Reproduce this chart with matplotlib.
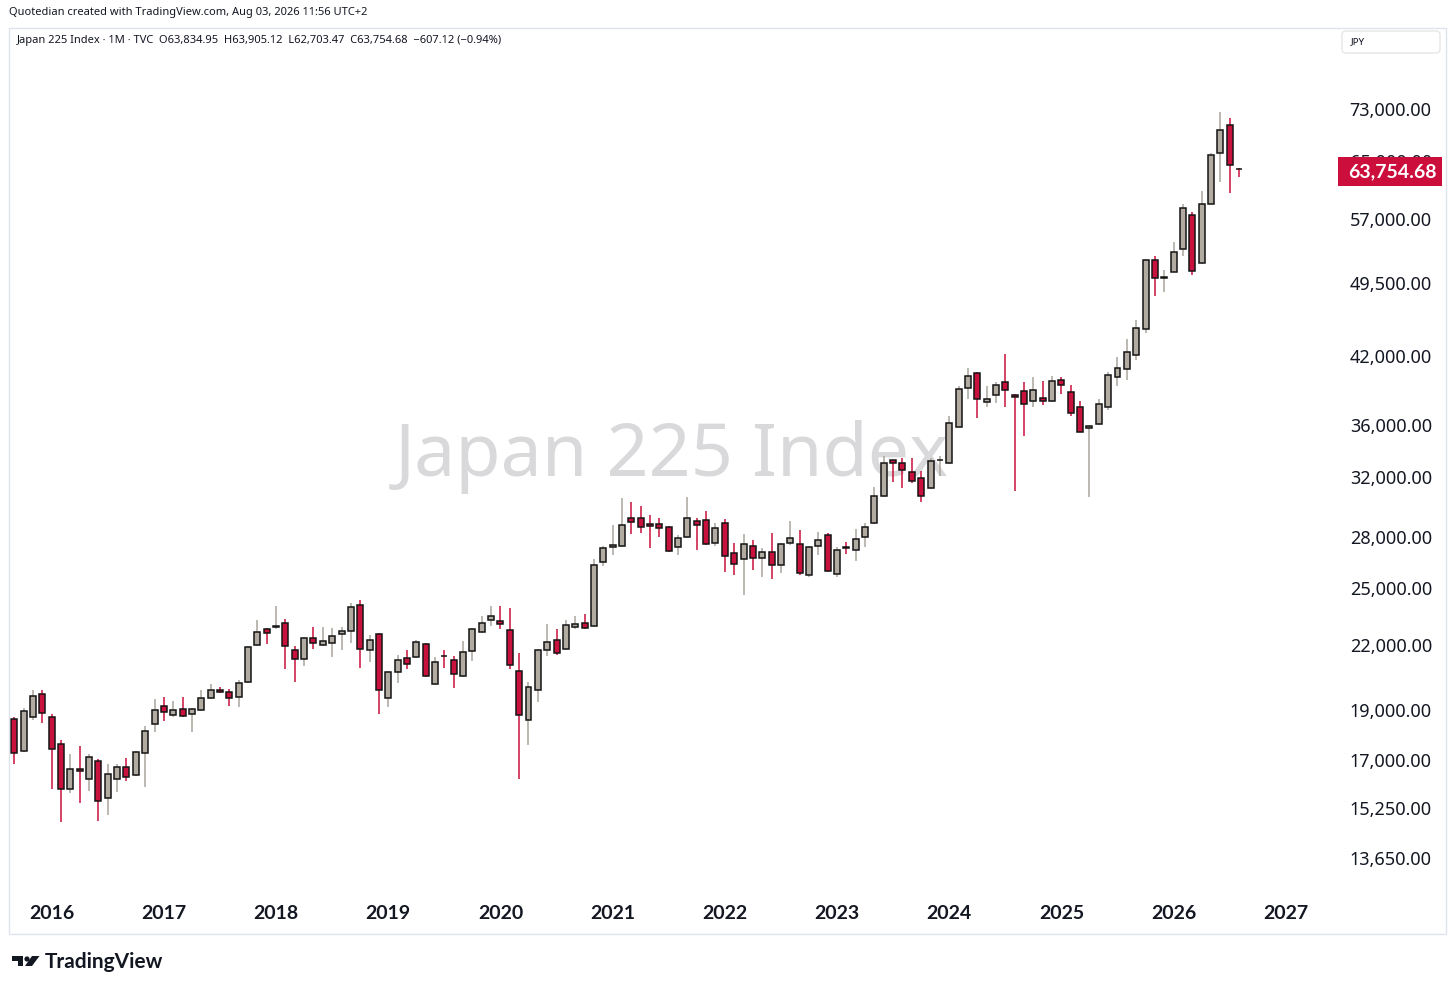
import numpy as np
import pandas as pd
import matplotlib
matplotlib.use("Agg")
import matplotlib.pyplot as plt
from matplotlib.patches import Rectangle, FancyBboxPatch, Polygon, Circle
from matplotlib.ticker import FixedLocator, FuncFormatter, NullLocator

plt.rcParams['font.family'] = ['Noto Sans', 'DejaVu Sans']
BOLD = ['Lato', 'DejaVu Sans']

# monthly candles, Sep 2015 .. Aug 2026
months = pd.date_range('2015-09-01', periods=132, freq='MS')
opens = [18650, 17358, 18700, 19680, 18700, 17600, 15920, 16650, 16280, 16975, 15605, 16290,
         16730, 16440, 17256, 18410, 19160, 18790, 19070, 18830, 19000, 19545, 19890, 19790,
         19570, 20250, 21966, 22770, 22870, 23110, 21755, 21306, 22333, 21985, 22085, 22524,
         22700, 24040, 21755, 22524, 19545, 20678, 21353, 21400, 22035, 20160, 21460, 21270,
         20495, 21706, 22634, 23270, 23220, 22735, 20724, 18570, 19860, 21755, 22212, 21787,
         22900, 23090, 22920, 26465, 27350, 27420, 29190, 29190, 28820, 28820, 28634, 27375,
         28000, 29030, 29085, 27630, 28880, 27000, 26670, 27420, 26710, 27100, 26320, 27610,
         27580, 25700, 27420, 28150, 25770, 27400, 27200, 28020, 28910, 30690, 33240, 33070,
         32360, 31940, 31240, 33250, 33050, 35830, 39060, 40400, 37860, 38455, 39650, 38510,
         38800, 37940, 38255, 37940, 39765, 38745, 37420, 35700, 36060, 37470, 40100, 40770,
         42095, 44625, 52040, 50000, 50720, 53300, 57570, 51730, 59040, 66110, 70430, 63834.95]
highs = [18700, 19100, 19860, 19890, 18860, 17790, 17210, 17550, 17210, 17040, 16850, 16840,
         17070, 17350, 18345, 19500, 19550, 19380, 19550, 19100, 19890, 20160, 20030, 19935,
         20340, 21950, 23270, 22815, 24000, 23320, 21917, 22400, 22900, 22870, 22815, 22900,
         24160, 24330, 22490, 22610, 20750, 21477, 21720, 22212, 22100, 21400, 21720, 21462,
         22160, 22850, 23440, 23970, 23970, 23870, 21593, 20230, 21800, 23065, 22780, 23270,
         23475, 23570, 26635, 27440, 28760, 30535, 30250, 30030, 29420, 29190, 28700, 28150,
         30645, 29225, 29690, 28920, 29140, 27630, 28170, 27810, 27300, 28230, 27600, 29030,
         28460, 27450, 28330, 28230, 27375, 27660, 28520, 28880, 31340, 33560, 33300, 33440,
         33440, 32470, 33430, 33570, 36680, 39290, 40855, 40500, 39235, 39585, 42190, 38600,
         39585, 40020, 39675, 40160, 40100, 39320, 37965, 36000, 38170, 40530, 41900, 43650,
         45500, 52200, 52500, 50880, 54250, 59040, 58000, 60700, 66130, 72460, 71490, 63905.12]
lows = [16840, 17300, 18580, 18470, 15930, 14800, 15780, 15420, 15870, 14830, 15040, 15830,
        16200, 16400, 16014, 18100, 18540, 18700, 18720, 18100, 18950, 19500, 19760, 19180,
        19140, 20200, 21917, 22035, 22800, 20840, 20230, 20960, 21800, 21950, 21385, 21755,
        22085, 20885, 21150, 18820, 19140, 20215, 20855, 21350, 20450, 20110, 20885, 19960,
        20450, 21190, 22600, 22940, 22770, 20840, 16292, 17570, 19365, 21430, 21500, 21750,
        22770, 22800, 22900, 26230, 26870, 27350, 28170, 28270, 27300, 27990, 27050, 26870,
        27950, 27180, 27500, 27440, 25910, 25715, 24600, 25985, 25600, 25485, 25810, 27490,
        25700, 25600, 26910, 25900, 25580, 26950, 26540, 27375, 28850, 30650, 31670, 31240,
        31610, 30300, 31200, 32110, 33000, 35800, 38100, 36544, 37470, 37800, 37470, 31034,
        35070, 37470, 37640, 37900, 38590, 36680, 35400, 30650, 36000, 37170, 39235, 39765,
        41630, 44230, 48005, 48470, 50650, 52500, 50320, 51650, 58950, 62040, 60490, 62703.47]
closes = [17245, 18960, 19620, 18900, 17410, 15920, 16650, 16600, 17120, 15515, 16475, 16740,
          16355, 17300, 18156, 19000, 18915, 19013, 18750, 19070, 19505, 19890, 19790, 19505,
          20205, 21890, 22634, 22610, 22950, 21917, 21320, 22333, 22085, 22197, 22410, 22700,
          23943, 21800, 22232, 19860, 20678, 21257, 21080, 22135, 20495, 21160, 21430, 20587,
          21623, 22780, 23110, 23475, 23050, 21005, 18790, 20025, 21755, 22135, 21593, 22970,
          23050, 22815, 26280, 27300, 27490, 28763, 28955, 28634, 28700, 28600, 27120, 27960,
          29190, 28745, 27580, 28590, 26850, 26345, 27580, 26710, 27100, 26280, 27560, 27960,
          25810, 27380, 27810, 25945, 27180, 27300, 27870, 28650, 30690, 33070, 33050, 32500,
          31770, 30690, 33210, 33300, 36137, 38995, 40160, 38100, 38170, 39320, 38945, 38340,
          37670, 38885, 37940, 39675, 39355, 36960, 35440, 35900, 37700, 40225, 40855, 42405,
          44687, 52115, 49980, 50100, 53020, 58510, 50770, 59040, 65830, 69650, 64361.8, 63754.68]

price_ticks = [13650, 15250, 17000, 19000, 22000, 25000, 28000, 32000, 36000,
               42000, 49500, 57000, 65000, 73000]
year_ticks = list(range(2016, 2028))

o = np.array(opens); h = np.array(highs); l = np.array(lows); c = np.array(closes)
x = np.arange(len(months))
up = c >= o

UP = '#b2aba2'
UP_WICK = '#a9a49c'
DN = '#c9113d'
EDGE = '#141414'
TXT = '#131722'

fig = plt.figure(figsize=(14.56, 9.92), dpi=100)
W, H = 1456, 992

# main chart axes, placed in pixels
ax = fig.add_axes([10 / W, 1 - 890 / H, 1330 / W, 830 / H])
ax.set_yscale('log')
ax.set_ylim(12704, 81460)
ax.set_xlim(-0.46, 141.8)

ax.text(672 / W, 1 - 457 / H, 'Japan 225 Index', transform=fig.transFigure,
        ha='center', va='center', fontsize=53, color='#d9d9db', zorder=0.5)

ax.vlines(x[up], l[up], h[up], color=UP_WICK, lw=1.1, zorder=2)
ax.vlines(x[~up], l[~up], h[~up], color=DN, lw=1.1, zorder=2)
ax.bar(x, np.abs(c - o), bottom=np.minimum(o, c), width=0.64,
       color=np.where(up, UP, DN), edgecolor=EDGE, linewidth=1.1, zorder=3)

for s in ax.spines.values():
    s.set_visible(False)

ax.yaxis.tick_right()
ax.yaxis.set_major_locator(FixedLocator(price_ticks))
ax.yaxis.set_minor_locator(NullLocator())
ax.yaxis.set_major_formatter(FuncFormatter(lambda v, p: f'{v:,.2f}'))
ax.tick_params(axis='y', length=0, pad=7, labelsize=13, labelcolor=TXT)

first = months[0]
xt = [(yr - first.year) * 12 + (1 - first.month) for yr in year_ticks]
ax.set_xticks(xt)
ax.set_xticklabels([str(yr) for yr in year_ticks], fontweight='bold', family=BOLD)
ax.tick_params(axis='x', length=0, pad=11, labelsize=14, labelcolor=TXT)

# overlay in pixel coordinates for frame, header, price tag and logo
ov = fig.add_axes([0, 0, 1, 1], zorder=5)
ov.set_xlim(0, W)
ov.set_ylim(H, 0)
ov.axis('off')
ov.patch.set_visible(False)

ov.add_patch(Rectangle((9, 28), 1437, 906, fill=False, edgecolor='#e0e3eb', lw=1))
ov.text(9, 13, 'Quotedian created with TradingView.com, Aug 03, 2026 11:56 UTC+2',
        fontsize=8, color=TXT, va='center', ha='left')
ov.text(17, 40, 'Japan 225 Index \u00b7 1M \u00b7 TVC  O63,834.95  H63,905.12  '
        'L62,703.47  C63,754.68  \u2212607.12 (\u22120.94%)',
        fontsize=8, color=TXT, va='center', ha='left')

ov.add_patch(FancyBboxPatch((1342, 31), 98, 22, boxstyle='round,pad=0,rounding_size=4',
                            facecolor='white', edgecolor='#e6e6e6', lw=1))
ov.text(1351, 42, 'JPY', fontsize=7, color=TXT, va='center', ha='left')

ov.add_patch(Rectangle((1338, 157), 104, 29, facecolor='#cc0e3c', edgecolor='none'))
ov.text(1392, 171.5, f'{closes[-1]:,.2f}', fontsize=14, fontweight='bold', family=BOLD,
        color='white', va='center', ha='center')

# TradingView logo
ov.add_patch(Polygon([(12, 956), (23, 956), (23, 966), (18, 966), (18, 961), (12, 961)],
                     closed=True, facecolor=TXT, edgecolor='none'))
ov.add_patch(Circle((27, 959), 2.6, facecolor=TXT, edgecolor='none'))
ov.add_patch(Polygon([(32, 956), (39.5, 956), (32, 966), (25, 966)],
                     closed=True, facecolor=TXT, edgecolor='none'))
ov.text(45, 962, 'TradingView', fontsize=15, fontweight='bold', family=BOLD, color=TXT,
        va='center', ha='left')

fig.savefig('out.png', dpi=100)
